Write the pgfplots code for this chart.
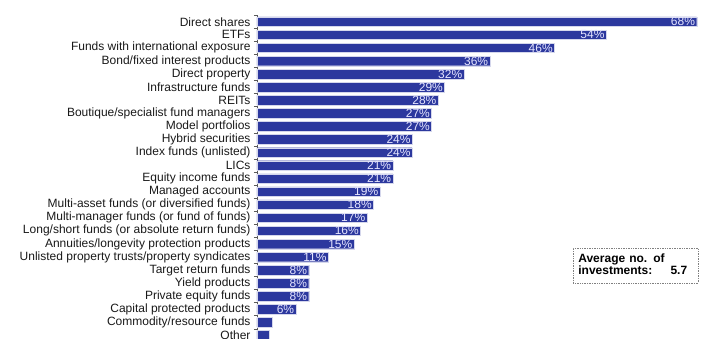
\documentclass[border=0pt]{standalone}
\usepackage{pgfplots}
\pgfplotsset{compat=1.18}
\usepackage{fontspec}
\setmainfont{Liberation Sans}
\definecolor{barblue}{RGB}{44,56,158}
\definecolor{axgray}{RGB}{90,90,90}
\begin{document}
\begin{tikzpicture}
\useasboundingbox (0,0) rectangle (707pt,338pt);
\begin{axis}[
  at={(257pt,0pt)}, anchor=south west,
  scale only axis, width=450pt, height=322.8pt,
  xbar, bar width=9.5pt, bar shift=0pt,
  xmin=0, xmax=69.6,
  ymin=-0.5, ymax=24.2, y dir=reverse,
  axis x line=none,
  axis y line*=left,
  y axis line style={axgray, line width=0.8pt},
  ytick={0,...,24},
  yticklabels={Direct shares, ETFs, Funds with international exposure, Bond/fixed interest products, Direct property, Infrastructure funds, REITs, Boutique/specialist fund managers, Model portfolios, Hybrid securities, Index funds (unlisted), LICs, Equity income funds, Managed accounts, Multi-asset funds (or diversified funds), Multi-manager funds (or fund of funds), Long/short funds (or absolute return funds), Annuities/longevity protection products, Unlisted property trusts/property syndicates, Target return funds, Yield products, Private equity funds, Capital protected products, Commodity/resource funds, Other},
  major tick length=0pt,
  minor ytick={-0.5,0.5,...,23.5},
  minor tick length=3pt,
  ytick align=outside,
  minor tick style={axgray, line width=0.6pt},
  yticklabel style={font=\fontsize{12}{13}\selectfont, text=black!90, xshift=-3pt},
  clip=true,
  /pgf/number format/assume math mode=true,
]
\addplot[fill=barblue, draw=white!80!barblue, line width=0.3pt,
  nodes near coords={\pgfmathprintnumber{\pgfplotspointmeta}\%},
  point meta=explicit,
  every node near coord/.append style={anchor=east, xshift=-0.5pt, inner sep=1pt, text=white!90!blue, font=\fontsize{12}{12}\selectfont}]
  table[x=val, y=idx, meta=val] {
idx val
0 68
1 54
2 46
3 36
4 32
5 29
6 28
7 27
8 27
9 24
10 24
11 21
12 21
13 19
14 18
15 17
16 16
17 15
18 11
19 8
20 8
21 8
22 6
};
\addplot[fill=barblue, draw=white!80!barblue, line width=0.3pt]
  table[x=val, y=idx] {
idx val
23 2.3
24 1.9
};
\end{axis}
\node[draw=gray, densely dotted, line width=0.7pt, inner xsep=5pt, inner ysep=5pt, anchor=north west,
  font=\bfseries\fontsize{12}{12}\selectfont, text width=115pt, align=left]
  at (573pt,90pt) {\begin{tabular}{@{}l@{\hspace{6pt}}l@{}}Average no. of & \\ investments: & 5.7\end{tabular}};
\end{tikzpicture}
\end{document}
